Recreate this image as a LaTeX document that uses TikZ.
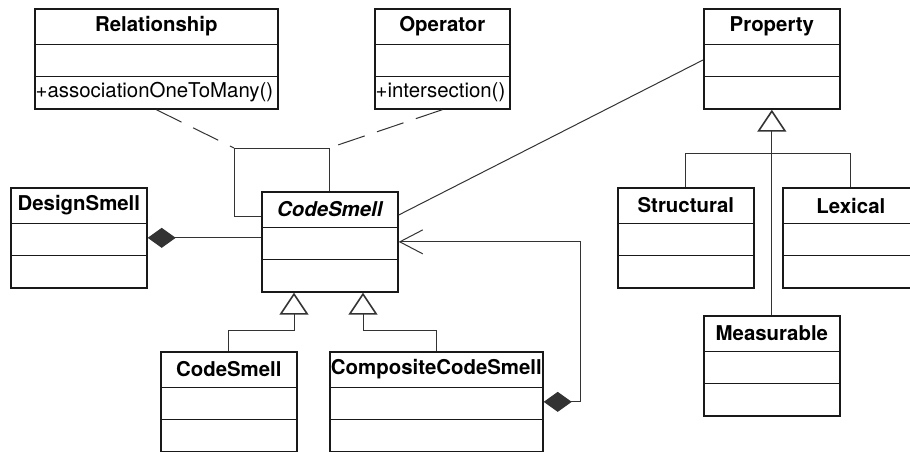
\documentclass[tikz,border=0pt]{standalone}
\usepackage{fontspec}
\setmainfont{TeX Gyre Heros}
\usetikzlibrary{arrows.meta,calc}

\newcommand{\taille}{\fontsize{20.4pt}{24pt}\selectfont}

\tikzset{
	classbox/.style={draw=black!90,line width=1.7pt,minimum height=100pt,inner sep=0pt,anchor=north west},
	cloison/.style={draw=black!90,line width=1.7pt},
	lien/.style={draw=black!80,line width=1pt},
	herite/.style={lien,-{Triangle[open,length=22pt,width=29pt,line width=1.6pt]}},
	compose/.style={lien,-{Diamond[length=28pt,width=20pt]}},
	assocclass/.style={lien,dash pattern=on 28pt off 13pt},
}

% boite de classe : nom, x, y, largeur, titre, operation
\newcommand{\classe}[6]{%
	\node[classbox,minimum width=#4pt] (#1) at (#2,#3) {};
	\draw[cloison] ([yshift=-36.5pt]#1.north west) -- ([yshift=-36.5pt]#1.north east);
	\draw[cloison] ([yshift=-68.5pt]#1.north west) -- ([yshift=-68.5pt]#1.north east);
	\node[font=\taille\bfseries,inner sep=0pt] (#1-nom) at ([yshift=-18.5pt]#1.north) {#5};
	\node[font=\taille,anchor=west,inner sep=1.5pt] (#1-op) at ([yshift=-84pt]#1.north west) {#6};
}

\begin{document}
\begin{tikzpicture}[x=1pt,y=-1pt]
	\useasboundingbox (0,0) rectangle (910,452);
	\clip (0,0) rectangle (910,452);
	% Classes
	\classe{rel}{34}{8}{243}{Relationship}{+associationOneToMany()}
	\classe{op}{374}{8}{135}{Operator}{+intersection()}
	\classe{prop}{703}{8}{136}{Property}{}
	\classe{design}{10}{187}{136}{DesignSmell}{}
	\classe{smell}{261}{191}{136}{\itshape CodeSmell}{}
	\classe{simple}{160}{351}{136}{CodeSmell}{}
	\classe{composite}{329}{351}{213}{CompositeCodeSmell}{}
	\classe{struct}{617}{187}{136}{Structural}{}
	\classe{lex}{782}{187}{136}{Lexical}{}
	\classe{meas}{703}{315}{136}{Measurable}{}

	% Liens
	\coordinate (loopl) at (234,148);
	\coordinate (loopr) at (329,148);
	\draw[lien] ([yshift=-25pt]smell.north west) -| (loopl) -- (loopr) -- (loopr |- smell.north);
	\draw[assocclass] (rel.south) -- (loopl);
	\draw[assocclass] (op.south) -- (loopr);
	\draw[compose] (design.east -| smell.west) -- (design.east);
	\draw[lien] ([yshift=-24pt]smell.north east) -- ([yshift=-52pt]prop.north west);
	\draw[lien,{Diamond[length=28pt,width=20pt]}-{Straight Barb[length=23pt,width=24pt]}] (composite.east) -- ++(37,0) |- (smell.east);
	\draw[herite] (simple.north) -- ++(0,-21) -| ([xshift=33pt]smell.south west);
	\draw[herite] (composite.north) -- ++(0,-21) -| ([xshift=102pt]smell.south west);

	\coordinate (split) at ([yshift=-44pt]prop.south);
	\draw[lien] (struct.north) |- (split) -| (lex.north);
	\draw[herite] (meas.north) -- (prop.south);
\end{tikzpicture}
\end{document}
